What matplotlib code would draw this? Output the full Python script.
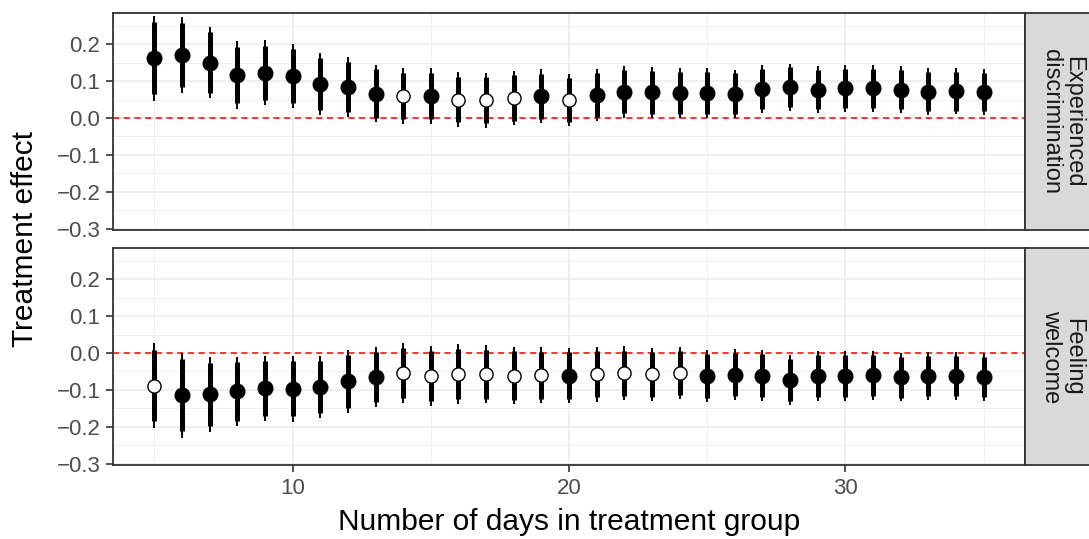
import numpy as np
import matplotlib
matplotlib.use("Agg")
import matplotlib.pyplot as plt
from matplotlib.ticker import MultipleLocator

plt.rcParams['font.family'] = ['Liberation Sans', 'DejaVu Sans']

days = list(range(5, 36))

panels = ["Experienced\ndiscrimination", "Feeling\nwelcome"]

est_disc = [0.162, 0.170, 0.150, 0.116, 0.122, 0.114, 0.093, 0.084, 0.066, 0.059,
            0.060, 0.050, 0.048, 0.054, 0.059, 0.049, 0.062, 0.071, 0.069, 0.068,
            0.068, 0.065, 0.078, 0.083, 0.077, 0.080, 0.080, 0.077, 0.071, 0.072, 0.070]
se_disc = [0.0587, 0.0526, 0.0495, 0.0464, 0.0449, 0.0444, 0.0429, 0.0413, 0.0398, 0.0383,
           0.0383, 0.0378, 0.0378, 0.0378, 0.0372, 0.0362, 0.0357, 0.0357, 0.0347, 0.0347,
           0.0347, 0.0337, 0.0332, 0.0327, 0.0321, 0.0321, 0.0321, 0.0321, 0.0321, 0.0316, 0.0316]
sig_disc = [1, 1, 1, 1, 1, 1, 1, 1, 1, 0,
            1, 0, 0, 0, 1, 0, 1, 1, 1, 1,
            1, 1, 1, 1, 1, 1, 1, 1, 1, 1, 1]

est_welc = [-0.088, -0.114, -0.112, -0.104, -0.096, -0.097, -0.092, -0.077, -0.065, -0.054,
            -0.062, -0.057, -0.057, -0.061, -0.060, -0.061, -0.058, -0.055, -0.058, -0.054,
            -0.062, -0.059, -0.061, -0.073, -0.063, -0.063, -0.060, -0.065, -0.063, -0.063, -0.065]
se_welc = [0.0587, 0.0587, 0.0515, 0.0480, 0.0454, 0.0454, 0.0423, 0.0429, 0.0408, 0.0418,
           0.0413, 0.0408, 0.0403, 0.0398, 0.0388, 0.0383, 0.0378, 0.0372, 0.0367, 0.0357,
           0.0357, 0.0352, 0.0347, 0.0347, 0.0342, 0.0342, 0.0337, 0.0337, 0.0332, 0.0332, 0.0327]
sig_welc = [0, 1, 1, 1, 1, 1, 1, 1, 1, 0,
            0, 0, 0, 0, 0, 1, 0, 0, 0, 0,
            1, 1, 1, 1, 1, 1, 1, 1, 1, 1, 1]

series = [(est_disc, se_disc, sig_disc), (est_welc, se_welc, sig_welc)]

W, H = 1089, 539
fig = plt.figure(figsize=(W / 100, H / 100), dpi=100)

left, right = 113, 1025
tops = [(13, 230), (248, 465)]
strip_w = 74
grid_col = "#EBEBEB"

for i, ((t, b), (est, se, sig)) in enumerate(zip(tops, series)):
    ax = fig.add_axes([left / W, 1 - b / H, (right - left) / W, (b - t) / H])
    x = np.array(days)
    e = np.array(est)
    s = np.array(se)
    ax.vlines(x, e - 1.96 * s, e + 1.96 * s, color="black", lw=1.4, zorder=3)
    ax.vlines(x, e - 1.645 * s, e + 1.645 * s, color="black", lw=3.6, zorder=3)
    sg = np.array(sig).astype(bool)
    ax.plot(x[sg], e[sg], "o", ms=10.5, mfc="black", mec="black", zorder=4)
    ax.plot(x[~sg], e[~sg], "o", ms=9.5, mfc="white", mec="black", mew=1.0, zorder=4)
    ax.axhline(0, color="red", ls=(0, (4, 3)), lw=1.1, zorder=2)

    ax.set_xlim(3.5, 36.5)
    ax.set_ylim(-0.303, 0.284)
    ax.xaxis.set_major_locator(MultipleLocator(10))
    ax.xaxis.set_minor_locator(MultipleLocator(5))
    ax.set_yticks([-0.3, -0.2, -0.1, 0.0, 0.1, 0.2])
    ax.set_yticklabels(["\u22120.3", "\u22120.2", "\u22120.1", "0.0", "0.1", "0.2"])
    ax.yaxis.set_minor_locator(MultipleLocator(0.05))
    ax.grid(True, which="major", color=grid_col, lw=1.1, zorder=0)
    ax.grid(True, which="minor", color=grid_col, lw=0.55, zorder=0)
    ax.set_axisbelow(True)
    for sp in ax.spines.values():
        sp.set_color("#333333")
        sp.set_linewidth(1.3)
    ax.tick_params(axis="both", which="major", length=5, width=1.2, color="#333333",
                   labelsize=16, labelcolor="#4D4D4D", pad=4)
    ax.tick_params(axis="both", which="minor", length=0)
    if i == 0:
        ax.tick_params(axis="x", which="both", labelbottom=False, length=0)
    else:
        ax.set_xlabel("Number of days in treatment group", fontsize=21.5, labelpad=7)

    sax = fig.add_axes([right / W, 1 - b / H, strip_w / W, (b - t) / H])
    sax.set_facecolor("#D9D9D9")
    sax.set_xticks([])
    sax.set_yticks([])
    for sp in sax.spines.values():
        sp.set_color("#333333")
        sp.set_linewidth(1.3)
    sax.text(0.5, 0.5, panels[i], rotation=-90, ha="center", va="center",
             fontsize=17, color="#1A1A1A", transform=sax.transAxes, linespacing=1.0)

fig.text(25 / W, 1 - 239 / H, "Treatment effect", rotation=90, ha="center", va="center",
         fontsize=21.5)

fig.savefig("out.png", dpi=100)
